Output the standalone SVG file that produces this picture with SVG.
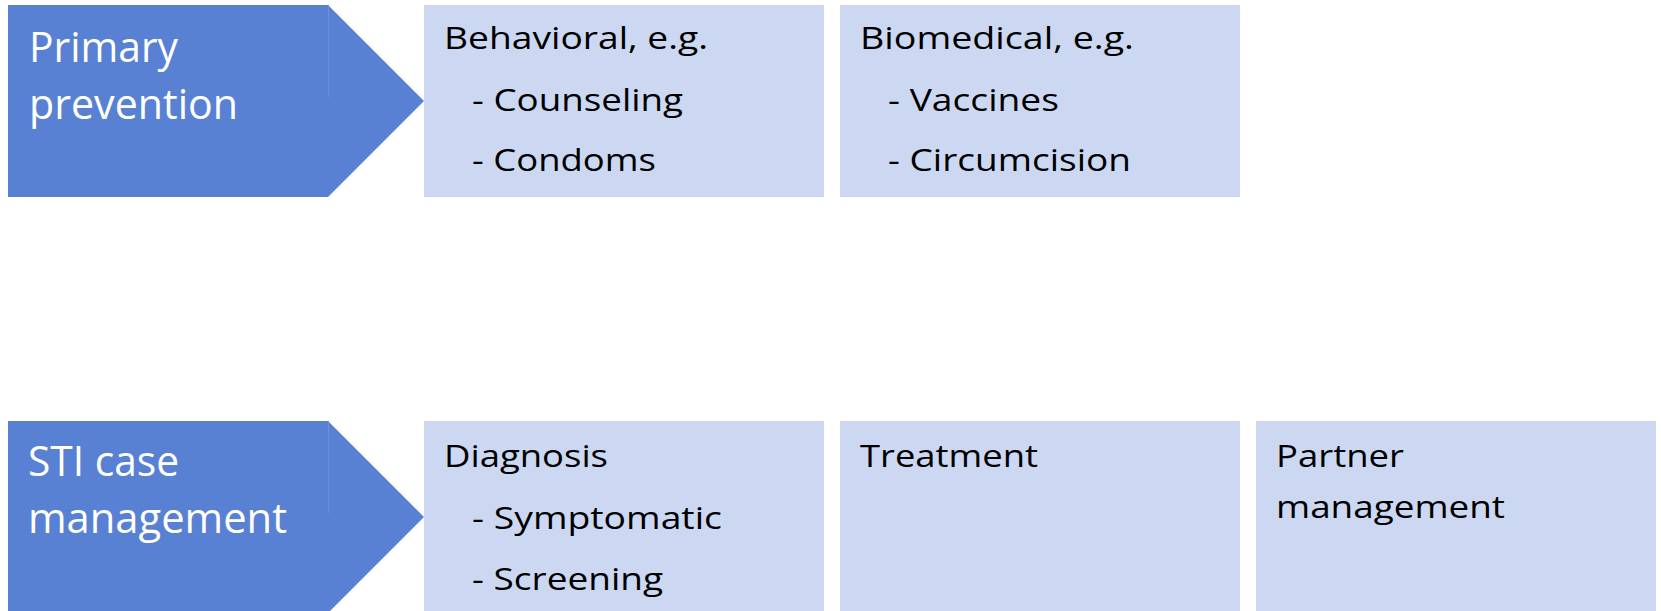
<svg xmlns="http://www.w3.org/2000/svg" width="1661" height="611" viewBox="0 0 1661 611">
  <style>
    .arrow { fill: #5981D3; }
    .seam { stroke: #6B8FD9; stroke-width: 1; }
    .box { fill: #CCD8F2; }
    .head { font-family: "Open Sans", "Liberation Sans", sans-serif; font-size: 42px; fill: #FFFFFF; }
    .txt { font-family: "Open Sans", "Liberation Sans", sans-serif; font-size: 31px; fill: #000000; }
  </style>
  <rect width="1661" height="611" fill="#FFFFFF"/>

  <g id="primary-prevention">
    <polygon class="arrow" points="8,5 328,5 424,101 328,197 8,197"/>
    <line class="seam" x1="328.5" y1="5" x2="328.5" y2="97"/>
    <text class="head" x="29" y="62" textLength="149" lengthAdjust="spacingAndGlyphs">Primary</text>
    <text class="head" x="29" y="119" textLength="209" lengthAdjust="spacingAndGlyphs">prevention</text>
  </g>

  <g id="behavioral">
    <rect class="box" x="424" y="5" width="400" height="192"/>
    <text class="txt" x="444" y="49" textLength="264" lengthAdjust="spacingAndGlyphs">Behavioral, e.g.</text>
    <text class="txt" x="472" y="111" textLength="211" lengthAdjust="spacingAndGlyphs">- Counseling</text>
    <text class="txt" x="472" y="171" textLength="184" lengthAdjust="spacingAndGlyphs">- Condoms</text>
  </g>

  <g id="biomedical">
    <rect class="box" x="840" y="5" width="400" height="192"/>
    <text class="txt" x="860" y="49" textLength="274" lengthAdjust="spacingAndGlyphs">Biomedical, e.g.</text>
    <text class="txt" x="888" y="111" textLength="171" lengthAdjust="spacingAndGlyphs">- Vaccines</text>
    <text class="txt" x="888" y="171" textLength="243" lengthAdjust="spacingAndGlyphs">- Circumcision</text>
  </g>

  <g id="sti-case-management">
    <polygon class="arrow" points="8,421 328,421 424,517 328,613 8,613"/>
    <line class="seam" x1="328.5" y1="421" x2="328.5" y2="513"/>
    <text class="head" x="28" y="476" textLength="151" lengthAdjust="spacingAndGlyphs">STI case</text>
    <text class="head" x="28" y="533" textLength="259" lengthAdjust="spacingAndGlyphs">management</text>
  </g>

  <g id="diagnosis">
    <rect class="box" x="424" y="421" width="400" height="192"/>
    <text class="txt" x="444" y="467" textLength="164" lengthAdjust="spacingAndGlyphs">Diagnosis</text>
    <text class="txt" x="472" y="529" textLength="250" lengthAdjust="spacingAndGlyphs">- Symptomatic</text>
    <text class="txt" x="472" y="590" textLength="191" lengthAdjust="spacingAndGlyphs">- Screening</text>
  </g>

  <g id="treatment">
    <rect class="box" x="840" y="421" width="400" height="192"/>
    <text class="txt" x="860" y="467" textLength="178" lengthAdjust="spacingAndGlyphs">Treatment</text>
  </g>

  <g id="partner-management">
    <rect class="box" x="1256" y="421" width="400" height="192"/>
    <text class="txt" x="1276" y="467" textLength="128" lengthAdjust="spacingAndGlyphs">Partner</text>
    <text class="txt" x="1276" y="518" textLength="229" lengthAdjust="spacingAndGlyphs">management</text>
  </g>

  <g id="connectors"></g>
</svg>
